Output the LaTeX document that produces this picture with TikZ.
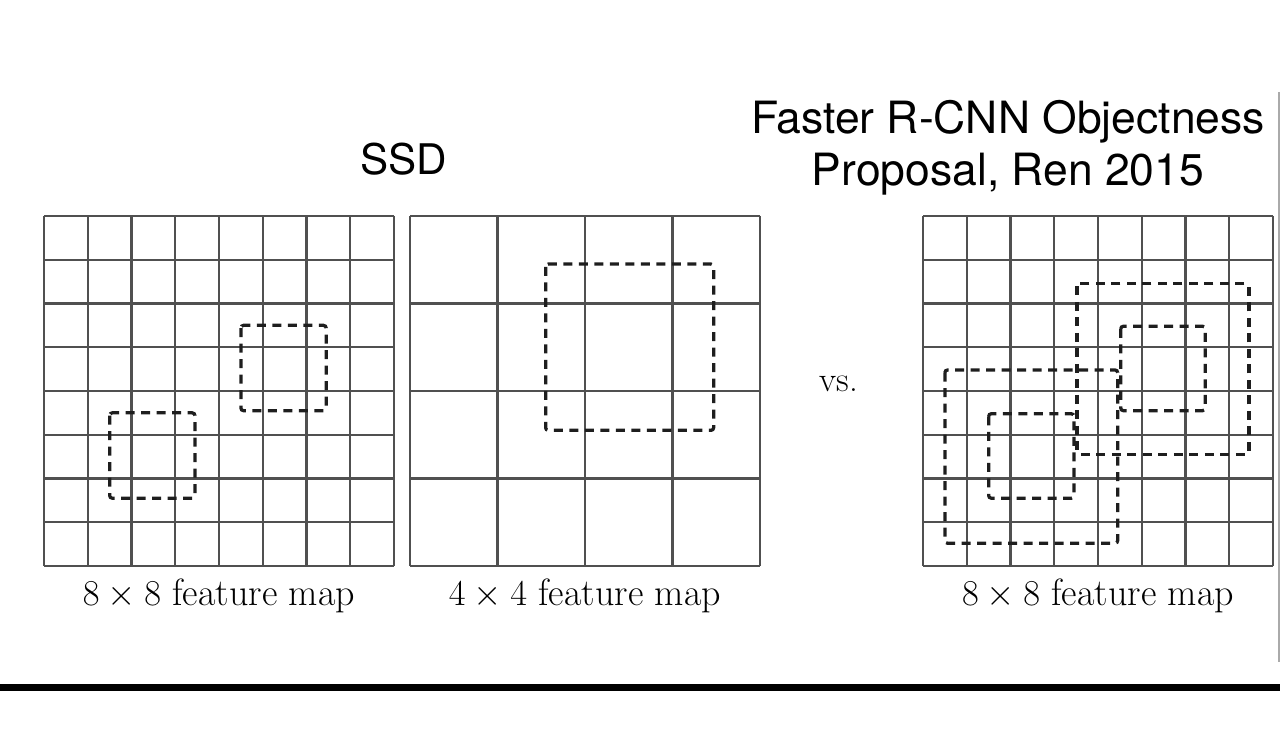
\documentclass[tikz,border=0pt]{standalone}
\usepackage{fontspec}
\newfontfamily\headfont{TeX Gyre Heros}
\usepackage{tikz}
\usetikzlibrary{positioning}
\definecolor{gridgray}{RGB}{80,80,80}
\definecolor{boxdark}{RGB}{30,30,30}
\definecolor{edgegray}{RGB}{170,170,170}
\tikzset{
  gridline/.style={draw=gridgray,line width=0.045cm},
  anchorbox/.style={draw=boxdark,line width=0.065cm,dash pattern=on 0.18cm off 0.13cm,rounded corners=1.5pt},
  headtext/.style={font=\headfont\fontsize{25.3}{29.5}\selectfont,inner sep=0pt,align=center},
  captext/.style={font=\fontsize{21.6}{26}\selectfont,inner sep=0pt,anchor=north},
  vstext/.style={font=\fontsize{20}{24}\selectfont,inner sep=0pt}
}

\begin{document}
\begin{tikzpicture}
  \useasboundingbox (0,0) rectangle (25.6,14.92);

  %% SSD 8x8 grid
  \begin{scope}[shift={(0.88,10.6)},x=0.875cm,y=-0.875cm]
    \foreach \i in {0,...,8} {
      \draw[gridline] (\i,0) -- (\i,8);
      \draw[gridline] (0,\i) -- (8,\i);
    }
    \draw[anchorbox] (4.5,2.5) rectangle (6.45,4.45);
    \draw[anchorbox] (1.5,4.5) rectangle (3.45,6.45);
    \coordinate (gridAbot) at (4,8);
  \end{scope}

  %% SSD 4x4 grid
  \begin{scope}[shift={(8.2,10.6)},x=1.75cm,y=-1.75cm]
    \foreach \i in {0,...,4} {
      \draw[gridline] (\i,0) -- (\i,4);
      \draw[gridline] (0,\i) -- (4,\i);
    }
    \draw[anchorbox] (1.55,0.55) rectangle (3.47,2.45);
    \coordinate (gridBbot) at (2,4);
  \end{scope}

  %% Faster R-CNN 8x8 grid
  \begin{scope}[shift={(18.46,10.6)},x=0.875cm,y=-0.875cm]
    \foreach \i in {0,...,8} {
      \draw[gridline] (\i,0) -- (\i,8);
      \draw[gridline] (0,\i) -- (8,\i);
    }
    \draw[anchorbox] (3.52,1.55) rectangle (7.45,5.45);
    \draw[anchorbox] (4.52,2.52) rectangle (6.45,4.45);
    \draw[anchorbox] (0.5,3.52) rectangle (4.45,7.48);
    \draw[anchorbox] (1.5,4.52) rectangle (3.45,6.45);
    \coordinate (gridCbot) at (4,8);
  \end{scope}

  %% titles
  \node[headtext,font=\headfont\fontsize{24}{27}\selectfont,anchor=base] (ssdtitle) at (8.08,11.42) {SSD};
  \node[headtext] (rcnntitle) at (20.16,11.96)
    {Faster R-CNN Objectness\\Proposal, Ren 2015};

  %% captions
  \node[captext,below=0.26cm of gridAbot] (capA) {$8\times8$ feature map};
  \node[captext,below=0.26cm of gridBbot] (capB) {$4\times4$ feature map};
  \node[captext,below=0.26cm of gridCbot] (capC) {$8\times8$ feature map};

  \node[vstext,anchor=base] (vs) at (16.78,7.08) {vs.};

  %% frame lines
  \coordinate (barL) at (0,1.18);
  \coordinate (barR) at (25.6,1.18);
  \draw[line width=0.14cm,black] (barL) -- (barR);
  \coordinate (edgeT) at (25.58,13.08);
  \coordinate (edgeB) at (25.58,1.68);
  \draw[edgegray,line width=0.03cm] (edgeT) -- (edgeB);
\end{tikzpicture}
\end{document}
